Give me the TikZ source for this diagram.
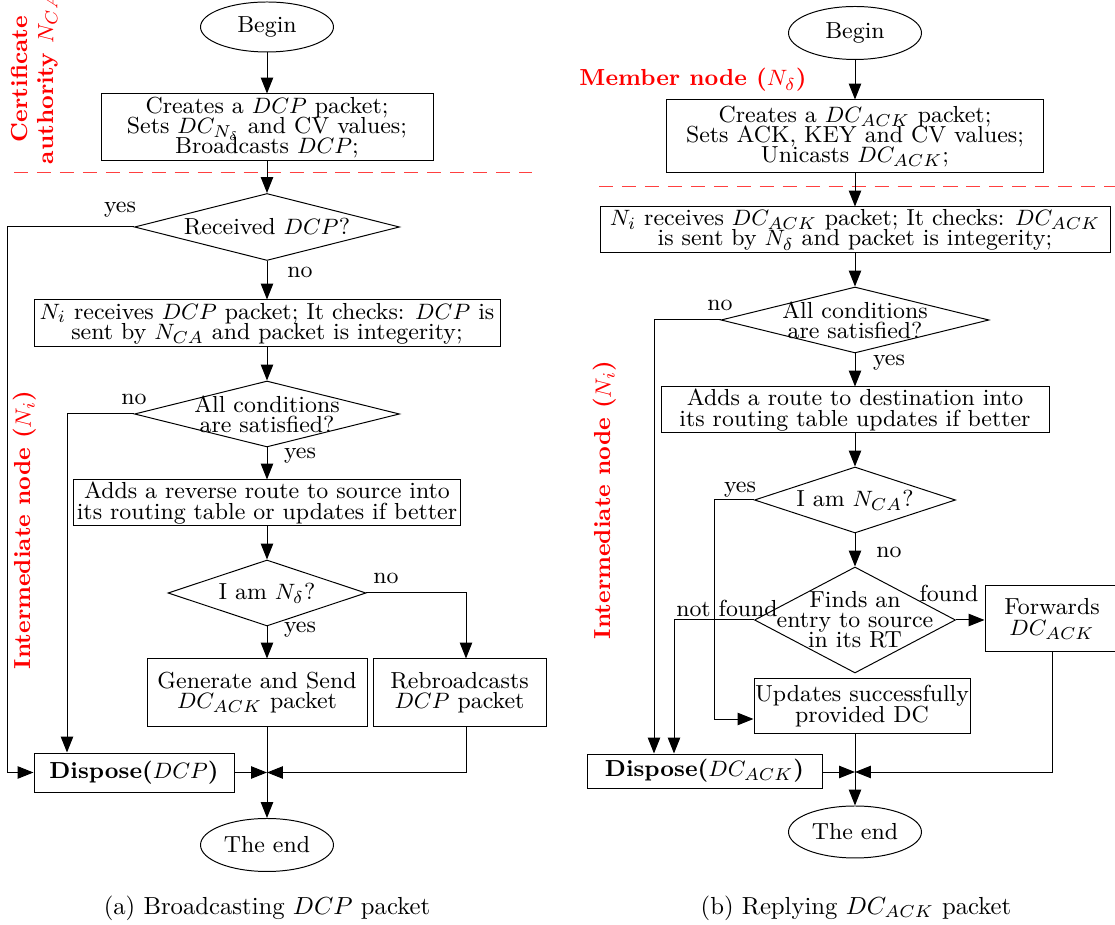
\documentclass[tikz,border=0pt]{standalone}
\usetikzlibrary{shapes.geometric,arrows.meta,calc}
\newcommand{\pxl}{0.405pt}
\newcommand{\dtx}[1]{\makebox[0pt]{\vbox{\lineskiplimit=-20pt\baselineskip=8.1pt\halign{\hfil##\hfil\cr#1\crcr}}}}
\begin{document}
\lineskiplimit=-20pt
\begin{tikzpicture}[x=\pxl,y=-\pxl,
  every node/.style={font=\fontsize{9.4}{8.2}\selectfont},
  pbox/.style 2 args={draw, rectangle, minimum width=#1*\pxl, minimum height=#2*\pxl, inner sep=0pt, align=center},
  pdia/.style 2 args={draw, diamond, minimum width=#1*\pxl, minimum height=#2*\pxl, inner sep=0pt},
  pell/.style 2 args={draw, ellipse, minimum width=#1*\pxl, minimum height=#2*\pxl, inner sep=0pt},
  redlab/.style={text=red, font=\bfseries\fontsize{9.4}{10.5}\selectfont, align=center},
  arr/.style={-{Triangle[length=6.4pt,width=5pt]}},
  sepline/.style={draw=red!75, dash pattern=on 5.7pt off 3.6pt},
  lab/.style={inner sep=0pt},
  captext/.style={font=\fontsize{10}{12}\selectfont}
]
\useasboundingbox (0,0) rectangle (1115,925);

% ---------------- left (a) ----------------
\node[redlab, rotate=90] (lCA) at (34.5,79) {Certificate\\ authority $N_{CA}$};
\draw[sepline] (14,173) -- (532,173);
\node[redlab, rotate=90] (lIA) at (25,530) {Intermediate node ($N_i$)};

\node[pell={133}{50}] (bA) at (267,27) {Begin};
\node[pbox={332}{67}] (cA1) at (267,127.5) {Creates a $DCP$ packet;\\ Sets $DC_{N_\delta}$ and CV values;\\ Broadcasts $DCP$;};
\node[pdia={265}{67}] (dA1) at (267,227) {\dtx{Received $DCP$?}};
\node[pbox={466}{47}] (cA2) at (267,323.5) {$N_i$ receives $DCP$ packet; It checks: $DCP$ is\\ sent by $N_{CA}$ and packet is integerity;};
\node[pdia={265}{66}] (dA2) at (267,414) {\dtx{All conditions\cr are satisfied?}};
\node[pbox={387}{46}] (cA3) at (267,503) {Adds a reverse route to source into\\ its routing table or updates if better};
\node[pdia={198}{66}] (dA3) at (267,593) {\dtx{I am $N_\delta$?}};
\node[pbox={220}{67}] (cA4) at (257,692.5) {Generate and Send\\ $DC_{ACK}$ packet};
\node[pbox={173}{67}] (cA5) at (459.5,692.5) {Rebroadcasts\\ $DCP$ packet};
\node[pbox={200}{39}] (dispA) at (134,772.5) {\textbf{Dispose(}$DCP$\textbf{)}};
\coordinate (jA) at (267,772.5);
\node[pell={133}{53}] (eA) at (267,845) {The end};
\node[captext] (capA) at (267,908) {(a) Broadcasting $DCP$ packet};

\coordinate (xA1) at (7,0);
\coordinate (xA2) at (67,0);
\coordinate (kA5) at (466,0);

\draw[arr] (bA) -- (cA1);
\draw[arr] (cA1) -- (dA1);
\draw[arr] (dA1) -- (cA2);
\draw[arr] (cA2) -- (dA2);
\draw[arr] (dA2) -- (cA3);
\draw[arr] (cA3) -- (dA3);
\draw[arr] (dA3.south) -- (dA3.south |- cA4.north);
\draw[arr] (dA3.east) -| (kA5 |- cA5.north);
\draw[arr] (dA1.west) -| (xA1 |- dispA.west) -- (dispA.west);
\draw[arr] (dA2.west) -| (xA2 |- dispA.north);
\draw (cA4.south -| jA) -- (jA);
\draw[arr] (jA) -- (eA);
\draw[arr] (dispA.east) -- (jA);
\draw[arr] (kA5 |- cA5.south) |- (jA);

\node[lab] (tA1) at (120,210) {yes};
\node[lab] (tA2) at (300,272) {no};
\node[lab] (tA3) at (134,399) {no};
\node[lab] (tA4) at (300,456) {yes};
\node[lab] (tA5) at (386,578) {no};
\node[lab] (tA6) at (300,630) {yes};

% ---------------- right (b) ----------------
\node[redlab] (lMB) at (693,80) {Member node ($N_\delta$)};
\draw[sepline] (599,187) -- (1115,187);
\node[redlab, rotate=90] (lIB) at (605,500) {Intermediate node ($N_i$)};

\node[pell={133}{53}] (bB) at (855,33) {Begin};
\node[pbox={377}{73}] (cB1) at (855,136.5) {Creates a $DC_{ACK}$ packet;\\ Sets ACK, KEY and CV values;\\ Unicasts $DC_{ACK}$;};
\node[pbox={510}{46}] (cB2) at (855,230) {$N_i$ receives $DC_{ACK}$ packet; It checks: $DC_{ACK}$\\ is sent by $N_\delta$ and packet is integerity;};
\node[pdia={268}{66}] (dB1) at (855,320) {\dtx{All conditions\cr are satisfied?}};
\node[pbox={388}{46}] (cB3) at (855,410) {Adds a route to destination into\\ its routing table updates if better};
\node[pdia={201}{66}] (dB2) at (855,500) {\dtx{I am $N_{CA}$?}};
\node[pdia={201}{106}] (dB3) at (855,620) {\dtx{Finds an\cr entry to source\cr in its RT}};
\node[pbox={134}{66}] (cB4) at (1052,619) {Forwards\\ $DC_{ACK}$};
\node[pbox={216}{54}] (cB5) at (862,706) {Updates successfully\\ provided DC};
\node[pbox={235}{34}] (dispB) at (704.5,771) {\textbf{Dispose(}$DC_{ACK}$\textbf{)}};
\coordinate (jB) at (855,772);
\node[pell={133}{52}] (eB) at (855,832) {The end};
\node[captext] (capB) at (856,908) {(b) Replying $DC_{ACK}$ packet};

\coordinate (xB1) at (654,0);
\coordinate (xB3) at (674,0);
\coordinate (xB2) at (714,719);

\draw[arr] (bB) -- (cB1);
\draw[arr] (cB1) -- (cB2);
\draw[arr] (cB2) -- (dB1);
\draw[arr] (dB1) -- (cB3);
\draw[arr] (cB3) -- (dB2);
\draw[arr] (dB2) -- (dB3);
\draw[arr] (dB3.east) -- (dB3.east -| cB4.west);
\draw[arr] (dB2.west) -| (xB2) -- (xB2 -| cB5.west);
\draw[arr] (dB1.west) -| (xB1 |- dispB.north);
\draw[arr] (dB3.west) -| (xB3 |- dispB.north);
\draw (cB5.south -| jB) -- (jB);
\draw[arr] (jB) -- (eB);
\draw[arr] (dispB.east |- jB) -- (jB);
\draw[arr] (cB4.south) |- (jB);

\node[lab] (tB1) at (720,305) {no};
\node[lab] (tB2) at (889,363) {yes};
\node[lab] (tB3) at (740,490) {yes};
\node[lab] (tB4) at (889,552) {no};
\node[lab] (tB5) at (949,593) {found};
\node[lab] (tB6) at (727,608) {not found};
\end{tikzpicture}
\end{document}
